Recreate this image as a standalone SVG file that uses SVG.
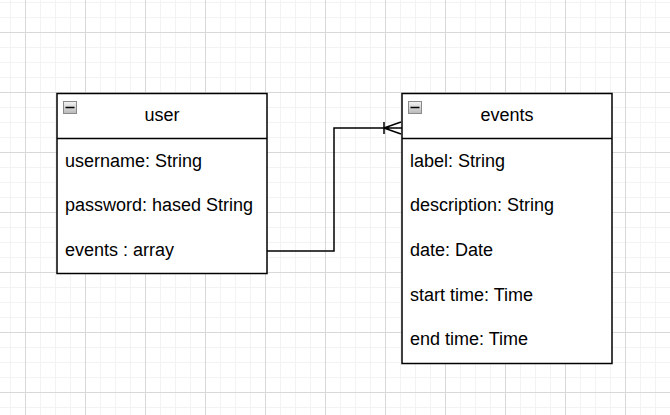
<svg xmlns="http://www.w3.org/2000/svg" width="670" height="415" viewBox="0 0 670 415">
<style>
.box{fill:#ffffff;stroke:#000000;stroke-width:1.5}
.div{stroke:#000000;stroke-width:1.5;fill:none}
.t{font-family:"Liberation Sans",Arial,sans-serif;font-size:18px;fill:#000000}
.h{text-anchor:middle}
.conn{fill:none;stroke:#000000;stroke-width:1.5}
.ic{fill:url(#icg);stroke:#8a8a8a;stroke-width:1}
</style>
<defs>
<pattern id="minor" x="10" y="2" width="15" height="15" patternUnits="userSpaceOnUse">
<path d="M0 0.5H15M0.5 0V15" stroke="#f3f3f3" stroke-width="1" fill="none"/>
</pattern>
<pattern id="major" x="25" y="32" width="60" height="60" patternUnits="userSpaceOnUse">
<path d="M0 0.5H60M0.5 0V60" stroke="#d8d8d8" stroke-width="1" fill="none"/>
</pattern>
<linearGradient id="icg" x1="0" y1="0" x2="0" y2="1">
<stop offset="0" stop-color="#f4f4f4"/>
<stop offset="1" stop-color="#b8b8b8"/>
</linearGradient>
</defs>
<rect width="670" height="415" fill="#ffffff"/>
<rect width="670" height="415" fill="url(#minor)"/>
<rect width="670" height="415" fill="url(#major)"/>

<g id="connectors">
<path class="conn" d="M267 251H334V128H384"/>
<path class="conn" d="M384 122V134M384 128L401 122M384 128L401 134M384 128H402"/>
</g>

<g id="user">
<rect class="box" x="57" y="93.5" width="210" height="180"/>
<line class="div" x1="57" y1="138.5" x2="267" y2="138.5"/>
<rect class="ic" x="63.5" y="101.5" width="13" height="12"/>
<line x1="65.5" y1="107.5" x2="74.5" y2="107.5" stroke="#000" stroke-width="1.5"/>
<text class="t h" x="162" y="121">user</text>
<text class="t" x="65" y="166.5">username: String</text>
<text class="t" x="65" y="211">password: hased String</text>
<text class="t" x="65" y="255.5">events : array</text>
</g>

<g id="events">
<rect class="box" x="402" y="93.5" width="210" height="270"/>
<line class="div" x1="402" y1="138.5" x2="612" y2="138.5"/>
<rect class="ic" x="408.5" y="101.5" width="13" height="12"/>
<line x1="410.5" y1="107.5" x2="419.5" y2="107.5" stroke="#000" stroke-width="1.5"/>
<text class="t h" x="507" y="121">events</text>
<text class="t" x="410" y="166.5">label: String</text>
<text class="t" x="410" y="211">description: String</text>
<text class="t" x="410" y="255.5">date: Date</text>
<text class="t" x="410" y="300.5">start time: Time</text>
<text class="t" x="410" y="345">end time: Time</text>
</g>
</svg>
